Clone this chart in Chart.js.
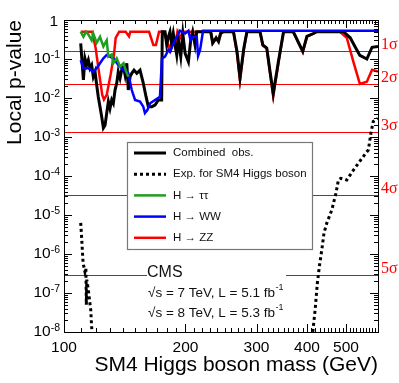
<!DOCTYPE html>
<html>
<head>
<meta charset="utf-8">
<script src="https://cdn.jsdelivr.net/npm/chart.js@4.4.1/dist/chart.umd.min.js"></script>
<style>
  html, body { margin: 0; padding: 0; background: #fff; }
  #wrap { width: 399px; height: 383px; }
</style>
</head>
<body>
<div id="wrap"><canvas id="chart" width="399" height="383"></canvas></div>
<script>
// values: SM4 Higgs mass (GeV) and local p-value
const combMass = [110, 111.7, 112.7, 113.8, 114.9, 116.0, 117.1, 118.2, 119.4, 120.5, 121.6, 122.8, 124.0, 125.2, 126.4,
  127.6, 128.8, 130.0, 131.3, 132.5, 133.8, 135.1, 136.3, 137.7, 139.0, 140.4, 141.7, 143.1, 144.3, 145.8,
  147.2, 149.1, 151.5, 154.3, 157.2, 159.7, 161.8, 165.0, 168.1, 171.3, 174.6, 175.2, 178.0, 179.7, 181.4,
  183.1, 184.8, 186.6, 190.3, 192.0, 194.7, 197.0, 199.6, 203.4, 206.1, 208.4, 211.2, 213.3, 231.0, 233.6,
  238.2, 241.5, 244.5, 248.0, 263.0, 268.4, 273.0, 279.0, 284.0, 306.0, 311.0, 318.0, 324.0, 330.0, 340.0,
  350.0, 370.0, 390.6, 400.0, 415.0, 423.0, 493.0, 512.0, 526.0, 541.0, 563.0, 580.0, 600.0];
const combP = [0.25, 0.029, 0.104, 0.07, 0.094, 0.058, 0.07, 0.035, 0.047, 0.0216, 0.0108, 0.006, 0.0033, 0.0017, 0.002,
  0.0041, 0.0081, 0.0054, 0.0089, 0.0073, 0.016, 0.024, 0.047, 0.032, 0.052, 0.064, 0.039, 0.078, 0.016, 0.035,
  0.043, 0.052, 0.043, 0.052, 0.024, 0.0108, 0.006, 0.006, 0.0066, 0.0089, 0.0089, 0.5, 0.5, 0.23, 0.37,
  0.5, 0.25, 0.45, 0.127, 0.31, 0.115, 0.45, 0.14, 0.085, 0.31, 0.5, 0.23, 0.5, 0.5, 0.26,
  0.35, 0.28, 0.45, 0.5, 0.5, 0.157, 0.033, 0.19, 0.5, 0.5, 0.23, 0.19, 0.048, 0.013, 0.087,
  0.5, 0.5, 0.157, 0.38, 0.45, 0.5, 0.5, 0.35, 0.21, 0.124, 0.10, 0.2, 0.21];

const expMass = [110, 110.4, 111.5, 112.7, 113.3, 113.6, 113.9, 114.9, 116.5, 117.1, 117.8, 260,
  411, 413.5, 419, 424.5, 429.4, 435.3, 441, 448, 461, 472, 478.6, 485, 502, 521, 547, 568, 576, 584, 600];
const expP = [6.3e-6, 3.5e-6, 5.9e-7, 3.5e-7, 4.4e-7, 5e-8, 2.2e-7, 1.2e-7, 3.6e-8, 1.35e-8, 5e-9, null,
  5e-9, 1e-8, 3.6e-8, 1.8e-7, 4.8e-7, 1.26e-6, 3.5e-6, 6.2e-6, 1.35e-5, 3.6e-5, 7.9e-5, 8.7e-5, 7.9e-5,
  1.4e-4, 2.8e-4, 4.7e-4, 1.23e-3, 2.5e-3, 3.0e-3];

const tauMass = [110, 111.7, 113.4, 115.0, 117.1, 118.2, 120.5, 122.8, 125.2, 127.6, 128.8, 131.3, 132.5, 135.1,
  137.7, 140.4, 143.1, 144.3];
const tauP = [0.5, 0.37, 0.5, 0.42, 0.3, 0.45, 0.26, 0.37, 0.21, 0.3, 0.115, 0.13, 0.078, 0.104,
  0.064, 0.078, 0.043, 0.035];

const wwMass = [110, 111.7, 114.9, 118.2, 120.5, 122.8, 125.2, 127.6, 130.0, 132.5, 136.3, 140.4, 144.3, 147.2,
  150.0, 154.3, 157.2, 158.7, 160.9, 163.5, 168.1, 172.9, 174.9, 178.0, 181.4, 183.1, 188.5, 193.9, 199.6,
  203.4, 205.9, 209.1, 213.3, 214.9, 217.4, 221.1, 600];
const wwP = [0.094, 0.058, 0.058, 0.047, 0.058, 0.078, 0.104, 0.127, 0.115, 0.104, 0.07, 0.052, 0.043, 0.016,
  0.0089, 0.0081, 0.006, 0.0041, 0.0049, 0.0073, 0.0089, 0.0108, 0.104, 0.115, 0.17, 0.154, 0.307, 0.53, 0.45,
  0.53, 0.3, 0.37, 0.37, 0.12, 0.17, 0.53, 0.53];

const zzMass = [110, 117.5, 119.8, 122.0, 124.4, 125.6, 127.6, 130.5, 133.0, 134.3, 137.0, 142.2, 144.9, 146.0,
  162.5, 166.5, 169.0, 172.0, 176.0, 179.7, 183.0, 186.0, 188.5, 191.0, 194.0, 197.0, 231.0, 233.6, 238.2,
  241.5, 244.5, 263.0, 268.0, 273.0, 279.0, 284.0, 306.0, 311.0, 318.0, 324.0, 330.0, 340.0, 350.0, 370.0,
  390.6, 400.0, 415.0, 423.0, 483.0, 502.0, 521.0, 541.0, 563.0, 580.0, 600.0];
const zzP = [0.5, 0.5, 0.19, 0.048, 0.012, 0.0091, 0.012, 0.04, 0.13, 0.35, 0.5, 0.5, 0.38, 0.5,
  0.5, 0.23, 0.23, 0.5, 0.5, 0.3, 0.17, 0.4, 0.21, 0.5, 0.35, 0.5, 0.5, 0.25, 0.33,
  0.3, 0.5, 0.5, 0.15, 0.028, 0.17, 0.5, 0.5, 0.22, 0.19, 0.045, 0.011, 0.08, 0.5, 0.5,
  0.15, 0.38, 0.45, 0.5, 0.5, 0.35, 0.087, 0.023, 0.026, 0.053, 0.048];

const sigmaLabels = ['1σ', '2σ', '3σ', '4σ', '5σ'];
const sigmaP = [0.1587, 0.02275, 0.00135, 3.17e-5, 2.87e-7];

const xTickLabels = [100, 200, 300, 400, 500];
const yDecades = [1, 1e-1, 1e-2, 1e-3, 1e-4, 1e-5, 1e-6, 1e-7, 1e-8];

const cmsTitle = 'CMS';
const cmsLines = ['√s = 7 TeV, L = 5.1 fb', '√s = 8 TeV, L = 5.3 fb'];

const FONT = "'Liberation Sans', Arial, Helvetica, sans-serif";

function pts(m, p) {
  return m.map((x, i) => ({ x: x, y: p[i] }));
}

const rootStyle = {
  id: 'rootStyle',
  beforeDatasetsDraw(chart) {
    const { ctx, chartArea: a } = chart;
    const y = chart.scales.y;
    ctx.save();
    ctx.strokeStyle = '#ff0000';
    ctx.lineWidth = 1.2;
    sigmaP.forEach(p => {
      const py = Math.round(y.getPixelForValue(p)) + 0.5;
      ctx.beginPath();
      ctx.moveTo(a.left, py);
      ctx.lineTo(a.right, py);
      ctx.stroke();
    });
    ctx.restore();
  },
  afterDatasetsDraw(chart) {
    const { ctx, chartArea: a } = chart;
    const x = chart.scales.x, y = chart.scales.y;
    ctx.save();

    // frame
    ctx.strokeStyle = '#000';
    ctx.lineWidth = 1;
    ctx.strokeRect(a.left + 0.5, a.top + 0.5, a.right - a.left, a.bottom - a.top);

    // x ticks, inward on bottom and top
    ctx.beginPath();
    for (let m = 100; m <= 600; m += 10) {
      const px = Math.round(x.getPixelForValue(m)) + 0.5;
      const len = (m % 100 === 0) ? 8 : 4;
      ctx.moveTo(px, a.bottom); ctx.lineTo(px, a.bottom - len);
      ctx.moveTo(px, a.top); ctx.lineTo(px, a.top + len);
    }
    // y ticks, inward on left and right
    yDecades.forEach(d => {
      const py = Math.round(y.getPixelForValue(d)) + 0.5;
      ctx.moveTo(a.left, py); ctx.lineTo(a.left + 8, py);
      ctx.moveTo(a.right, py); ctx.lineTo(a.right - 8, py);
      if (d < 1) {
        for (let k = 2; k <= 9; k++) {
          const pm = Math.round(y.getPixelForValue(d * k)) + 0.5;
          ctx.moveTo(a.left, pm); ctx.lineTo(a.left + 4, pm);
          ctx.moveTo(a.right, pm); ctx.lineTo(a.right - 4, pm);
        }
      }
    });
    ctx.stroke();

    // y tick labels with exponents
    ctx.fillStyle = '#000';
    ctx.textBaseline = 'middle';
    ctx.textAlign = 'right';
    yDecades.forEach(d => {
      const py = y.getPixelForValue(d);
      const e = Math.round(Math.log10(d));
      if (e === 0) {
        ctx.font = '15.5px ' + FONT;
        ctx.fillText('1', a.left - 6, py + 2);
        return;
      }
      ctx.font = '10.5px ' + FONT;
      const ex = String(e);
      const ew = ctx.measureText(ex).width;
      ctx.fillText(ex, a.left - 4, py - 4);
      ctx.font = '15.5px ' + FONT;
      ctx.fillText('10', a.left - 4 - ew, py);
    });

    // legend box
    const lx = 127, ly = 142, lw = 185, lh = 107;
    ctx.fillStyle = '#fff';
    ctx.fillRect(lx, ly, lw, lh);
    ctx.strokeStyle = '#777';
    ctx.lineWidth = 1.2;
    ctx.strokeRect(lx + 0.5, ly + 0.5, lw, lh);
    ctx.textAlign = 'left';
    ctx.font = '11.5px ' + FONT;
    chart.data.datasets.forEach((ds, i) => {
      const ry = ly + 11 + i * 21.2;
      ctx.strokeStyle = ds.borderColor;
      ctx.lineWidth = ds.borderWidth;
      ctx.setLineDash(ds.borderDash || []);
      ctx.beginPath();
      ctx.moveTo(lx + 7, ry);
      ctx.lineTo(lx + 39, ry);
      ctx.stroke();
      ctx.setLineDash([]);
      ctx.fillStyle = '#111';
      ctx.fillText(ds.label, lx + 46, ry);
    });

    // CMS text block
    ctx.fillStyle = '#fff';
    ctx.fillRect(147, 262, 139, 62);
    ctx.fillStyle = '#111';
    ctx.font = '16px ' + FONT;
    ctx.fillText(cmsTitle, 147, 273);
    cmsLines.forEach((t, i) => {
      const ty = 293 + i * 20;
      ctx.font = '13.5px ' + FONT;
      ctx.fillText(t, 148, ty);
      const w = ctx.measureText(t).width;
      ctx.font = '9px ' + FONT;
      ctx.fillText('-1', 148 + w + 0.5, ty - 5);
    });

    // sigma labels at the right edge
    ctx.fillStyle = '#ff0000';
    ctx.font = "16px 'Liberation Serif', 'Times New Roman', serif";
    ctx.textBaseline = 'alphabetic';
    sigmaP.forEach((p, i) => {
      const py = y.getPixelForValue(p);
      ctx.fillText(sigmaLabels[i], a.right + 3, py - 2);
    });

    ctx.restore();
  }
};

new Chart(document.getElementById('chart'), {
  type: 'line',
  data: {
    datasets: [
      { label: 'Combined  obs.', data: pts(combMass, combP), borderColor: '#000000', borderWidth: 3, order: 3 },
      { label: 'Exp. for SM4 Higgs boson', data: pts(expMass, expP), borderColor: '#000000', borderWidth: 3,
        borderDash: [3, 3], order: 0 },
      { label: 'H → ττ', data: pts(tauMass, tauP), borderColor: '#1e9e1e', borderWidth: 2.5, order: 1 },
      { label: 'H → WW', data: pts(wwMass, wwP), borderColor: '#0000ff', borderWidth: 2.5, order: 2 },
      { label: 'H → ZZ', data: pts(zzMass, zzP), borderColor: '#ff0000', borderWidth: 2.5, order: 4 }
    ]
  },
  options: {
    responsive: false,
    animation: false,
    devicePixelRatio: 1,
    layout: { padding: { top: 20, right: 21, left: 0, bottom: 0 } },
    elements: {
      point: { radius: 0 },
      line: { tension: 0, fill: false, borderJoinStyle: 'miter' }
    },
    datasets: { line: { clip: 0 } },
    plugins: { legend: { display: false }, tooltip: { enabled: false } },
    scales: {
      x: {
        type: 'logarithmic',
        min: 100,
        max: 600,
        afterBuildTicks: s => { s.ticks = xTickLabels.map(v => ({ value: v })); },
        afterFit: s => { s.height = 51; },
        grid: { display: false, drawTicks: false },
        border: { display: false },
        ticks: {
          color: '#000', padding: 6, maxRotation: 0, autoSkip: false,
          font: { family: FONT, size: 15.5 },
          callback: v => String(v)
        },
        title: {
          display: true, text: 'SM4 Higgs boson mass (GeV)', align: 'end', color: '#000',
          font: { family: FONT, size: 21 }, padding: { top: 0, bottom: 5 }
        }
      },
      y: {
        type: 'logarithmic',
        min: 1e-8,
        max: 1,
        afterBuildTicks: s => { s.ticks = yDecades.map(v => ({ value: v })); },
        afterFit: s => { s.width = 64; },
        grid: { display: false, drawTicks: false },
        border: { display: false },
        ticks: { display: false },
        title: {
          display: true, text: 'Local p-value', align: 'end', color: '#000',
          font: { family: FONT, size: 21 }, padding: { top: 3, bottom: 0 }
        }
      }
    }
  },
  plugins: [rootStyle]
});
</script>
</body>
</html>
